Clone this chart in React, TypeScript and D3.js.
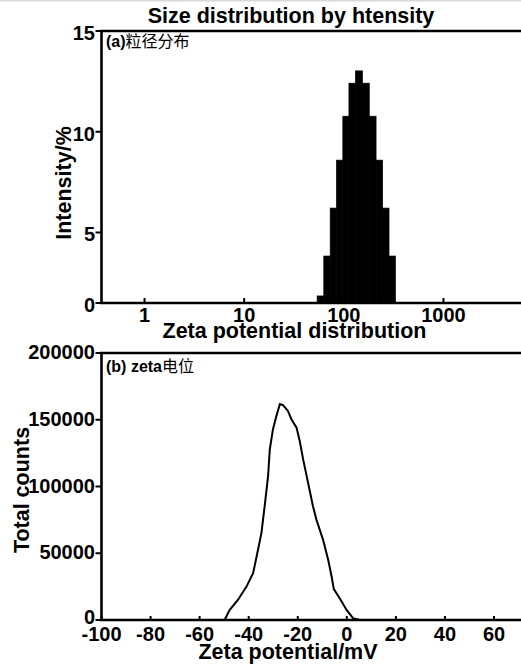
import React from "react";
import * as d3 from "d3";

// ---- Data ----
const sizeNm = [58.3, 68.0, 78.4, 91.0, 105.0, 120.6, 141.8, 166.5, 194.7, 228.0, 264.0, 306.0];
const intensityPct = [1.85, 3.83, 6.21, 8.59, 10.77, 12.41, 13.02, 12.41, 10.77, 8.59, 6.21, 3.83];

const zetaMv = [-100, -49.8, -47.8, -44.4, -40.9, -38.2, -36.2, -34.8, -33.5, -32.1, -31.4, -30.1, -28.7, -27.3, -26.0, -24.0, -22.6, -20.5, -19.2, -17.8, -15.8, -13.8, -12.4, -9.7, -7.6, -6.2, -5.3, -2.9, -0.1, 2.6, 5.3, 72];
const totalCounts = [0, 0, 7500, 15000, 25000, 35000, 52600, 65200, 85200, 107700, 127800, 142900, 152900, 161700, 160900, 156600, 150400, 144100, 134100, 120300, 102800, 85200, 75200, 60200, 45100, 32600, 23100, 16300, 7500, 1300, 0, 0];

const topXTicks = [1, 10, 100, 1000];
const topYTicks = [0, 5, 10, 15];
const botXTicks = [-100, -80, -60, -40, -20, 0, 20, 40, 60];
const botYTicks = [0, 50000, 100000, 150000, 200000];

const FONT = "'Liberation Sans', Arial, sans-serif";
const CJK = "'Noto Sans CJK SC', sans-serif";

export default function App() {
  const W = 521, H = 666;
  const left = 101.5, right = 521;

  // top panel scales
  const topYMin = 1.5;
  const xTop = d3.scaleLog().domain([0.37, 6000]).range([left, right]);
  const yTop = d3.scaleLinear().domain([topYMin, 15]).range([303, 31]);

  // bottom panel scales
  const xBot = d3.scaleLinear().domain([-100, 71]).range([left, right]);
  const yBot = d3.scaleLinear().domain([0, 200000]).range([620, 353]);

  // bar edges (geometric midpoints)
  const logs = sizeNm.map((s) => Math.log10(s));
  const edges: number[] = [];
  for (let i = 0; i <= logs.length; i++) {
    if (i === 0) edges.push(logs[0] - (logs[1] - logs[0]) / 2);
    else if (i === logs.length) edges.push(logs[i - 1] + (logs[i - 1] - logs[i - 2]) / 2);
    else edges.push((logs[i - 1] + logs[i]) / 2);
  }

  const line = d3
    .line<number>()
    .x((_, i) => xBot(zetaMv[i]))
    .y((d) => yBot(d))
    .curve(d3.curveLinear);

  const tickFont = { fontFamily: FONT, fontWeight: 700, fontSize: 20 } as const;
  const titleFont = { fontFamily: FONT, fontWeight: 700, fontSize: 21.5 } as const;

  return (
    <svg
      width={W}
      height={H}
      style={{ position: "absolute", left: 0, top: 0, background: "#fff" }}
    >
      <rect x={0} y={0} width={W} height={H} fill="#fff" />
      <line x1={0} x2={W} y1={0.8} y2={0.8} stroke="#d8d8d8" strokeWidth={1.6} />

      {/* ===== Top panel ===== */}
      <text x={291} y={23} textAnchor="middle" {...titleFont}>
        Size distribution by htensity
      </text>
      {sizeNm.map((s, i) => (
        <rect
          key={i}
          x={xTop(Math.pow(10, edges[i]))}
          width={xTop(Math.pow(10, edges[i + 1])) - xTop(Math.pow(10, edges[i]))}
          y={yTop(intensityPct[i])}
          height={yTop(topYMin) - yTop(intensityPct[i])}
          fill="#000"
          stroke="#000"
          strokeWidth={0.7}
        />
      ))}
      {/* frame */}
      <path
        d={`M${right},${yTop(15)}H${left}V${yTop(topYMin)}H${right}`}
        fill="none"
        stroke="#000"
        strokeWidth={2.6}
      />
      {topXTicks.map((t) => (
        <g key={t}>
          <line x1={xTop(t)} x2={xTop(t)} y1={yTop(topYMin)} y2={yTop(topYMin) - 5} stroke="#000" strokeWidth={2} />
          <text x={xTop(t)} y={321.5} textAnchor="middle" {...tickFont}>
            {t}
          </text>
        </g>
      ))}
      {topYTicks.map((t) => {
        const yy = yTop(Math.max(t, topYMin));
        return (
          <g key={t}>
            <line x1={left - 6} x2={left} y1={yy} y2={yy} stroke="#000" strokeWidth={2} />
            <text x={95} y={yy + 2} textAnchor="end" dominantBaseline="central" {...tickFont}>
              {t}
            </text>
          </g>
        );
      })}
      <text transform={`translate(71,183) rotate(-90)`} textAnchor="middle" {...titleFont}>
        Intensity/%
      </text>
      <text x={106} y={47} fontSize={16}>
        <tspan fontFamily={FONT} fontWeight={700}>(a)</tspan>
        <tspan fontFamily={CJK}>粒径分布</tspan>
      </text>

      {/* ===== Bottom panel ===== */}
      <text x={294.5} y={337.5} textAnchor="middle" {...titleFont}>
        Zeta potential distribution
      </text>
      <path d={line(totalCounts) || ""} fill="none" stroke="#000" strokeWidth={2} />
      <path
        d={`M${right},${yBot(200000)}H${left}V${yBot(0)}H${right}`}
        fill="none"
        stroke="#000"
        strokeWidth={2.6}
      />
      {botXTicks.map((t) => (
        <g key={t}>
          <line x1={xBot(t)} x2={xBot(t)} y1={yBot(0)} y2={yBot(0) - 4} stroke="#000" strokeWidth={2} />
          <text x={xBot(t)} y={640.5} textAnchor="middle" {...tickFont}>
            {t}
          </text>
        </g>
      ))}
      {botYTicks.map((t) => (
        <g key={t}>
          <line x1={left - 6} x2={left} y1={yBot(t)} y2={yBot(t)} stroke="#000" strokeWidth={2} />
          <text x={95} y={yBot(t) - (t === 0 ? 3 : 1)} textAnchor="end" dominantBaseline="central" {...tickFont}>
            {t}
          </text>
        </g>
      ))}
      <text transform={`translate(29,490) rotate(-90)`} textAnchor="middle" {...titleFont}>
        Total counts
      </text>
      <text x={288} y={658.5} textAnchor="middle" {...titleFont}>
        Zeta potential/mV
      </text>
      <text x={106} y={372} fontSize={16}>
        <tspan fontFamily={FONT} fontWeight={700}>(b) zeta</tspan>
        <tspan fontFamily={CJK}>电位</tspan>
      </text>
    </svg>
  );
}
